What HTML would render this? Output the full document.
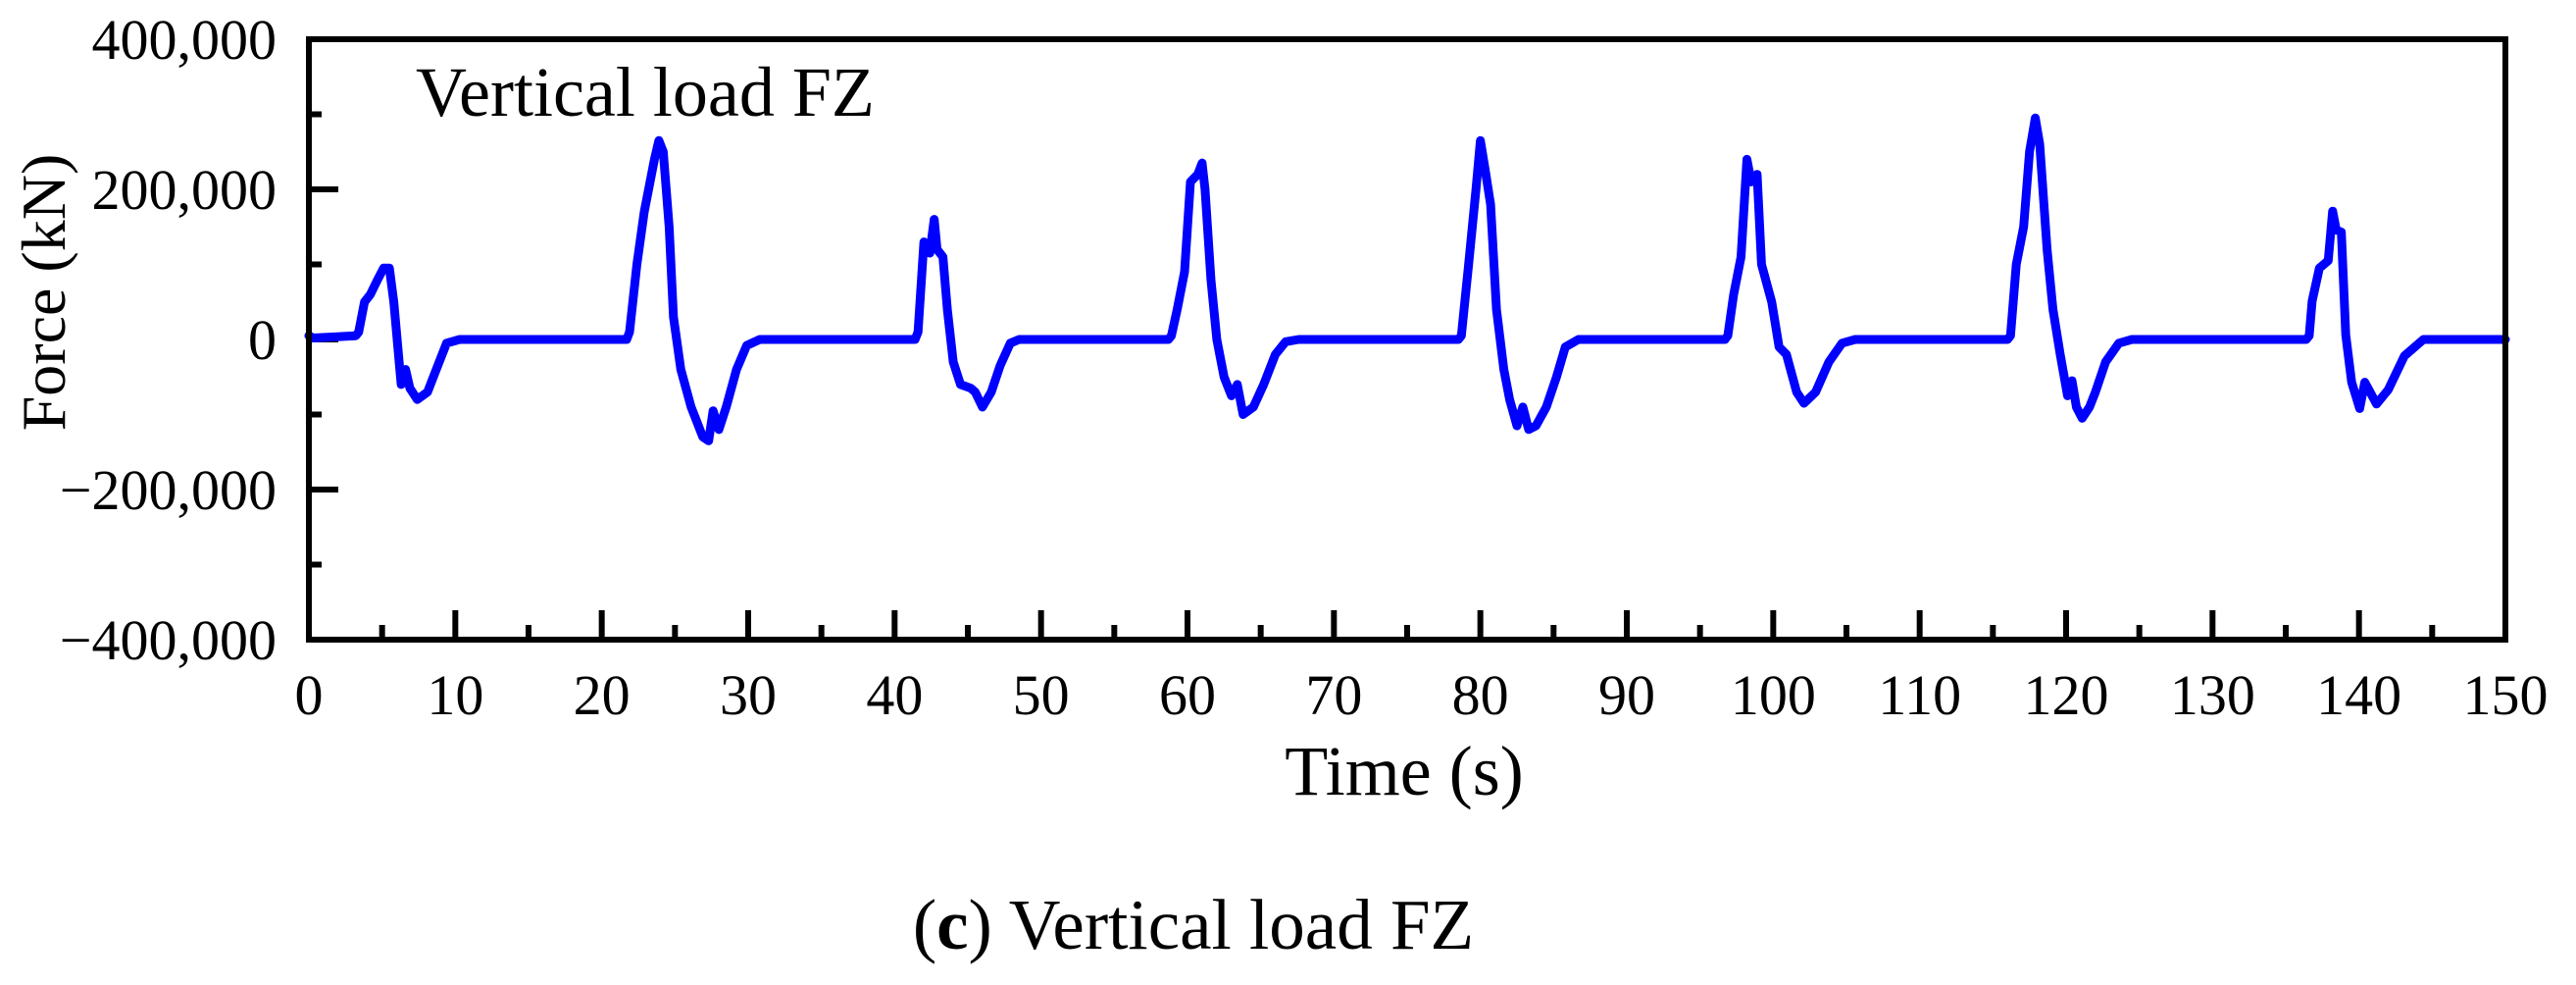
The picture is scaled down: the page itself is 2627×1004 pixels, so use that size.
<!DOCTYPE html>
<html><head><meta charset="utf-8"><style>
html,body{margin:0;padding:0;background:#fff;}
svg{display:block;font-family:"Liberation Serif",serif;}
</style></head><body>
<svg id="chart" width="2627" height="1004" viewBox="0 0 2627 1004" xmlns="http://www.w3.org/2000/svg">
<rect x="0" y="0" width="2627" height="1004" fill="#fff"/>
<g id="ticks"></g>
<g id="labels"></g>
<path id="series" fill="none" stroke="#0000ff" stroke-width="9" stroke-linejoin="round" stroke-linecap="round"/>
<rect x="315" y="40" width="2240" height="612" fill="none" stroke="#000" stroke-width="6"/>
<text x="424" y="118" font-size="72">Vertical load FZ</text>
<text transform="translate(66,298) rotate(-90)" text-anchor="middle" font-size="64">Force (kN)</text>
<text x="1432" y="810" text-anchor="middle" font-size="72">Time (s)</text>
<text x="1217" y="967" text-anchor="middle" font-size="73">(<tspan font-weight="bold">c</tspan>) Vertical load FZ</text>
</svg>
<script>
const times = [0,0.3,3.2,3.4,3.8,4.2,4.7,5.1,5.5,5.8,6.3,6.6,6.9,7.4,8.1,8.7,9.4,10.3,12,
21.7,21.9,22.4,22.9,23.6,23.9,24.2,24.6,24.9,25.4,26.1,26.9,27.3,27.6,28.0,28.5,29.2,29.9,30.8,
41.4,41.6,42.0,42.4,42.7,42.9,43.3,43.6,44.0,44.5,45.2,45.5,46.0,46.6,47.2,47.9,48.5,
58.7,58.9,59.3,59.8,60.2,60.7,61.0,61.2,61.6,62.0,62.5,63.0,63.4,63.8,64.5,65.2,66.0,66.7,67.6,
78.5,78.7,79.2,79.7,80.0,80.3,80.7,81.1,81.6,82.0,82.5,82.9,83.3,83.8,84.5,85.2,85.8,86.7,
96.7,96.9,97.3,97.8,98.2,98.5,98.9,99.2,99.9,100.4,100.9,101.6,102.1,102.9,103.8,104.7,105.6,
116.0,116.2,116.6,117.1,117.5,117.9,118.2,118.7,119.1,119.6,120.1,120.4,120.7,121.1,121.6,122.0,122.7,123.6,124.5,
136.4,136.6,136.8,137.3,137.9,138.2,138.45,138.8,139.1,139.5,140.05,140.4,141.2,142.0,143.1,144.4,150];
const forces = [5,2,5,10,50,60,80,95,95,50,-60,-40,-65,-80,-70,-40,-5,0,0,
0,10,100,170,240,265,250,150,30,-40,-90,-130,-135,-95,-120,-90,-40,-8,0,
0,10,130,115,160,120,110,40,-30,-60,-65,-70,-90,-70,-35,-5,0,
0,5,40,90,210,220,235,200,80,0,-50,-75,-60,-100,-90,-60,-20,-3,0,
0,5,100,200,265,230,180,40,-40,-80,-115,-90,-120,-115,-90,-50,-10,0,
0,5,60,110,240,210,220,100,50,-10,-20,-70,-85,-70,-30,-5,0,
0,5,100,150,250,295,260,120,40,-20,-75,-55,-90,-105,-90,-70,-30,-5,0,
0,5,51,95,105,171,146,143,6,-57,-92,-57,-86,-67,-22,0,0];
const xTickValues = [0,10,20,30,40,50,60,70,80,90,100,110,120,130,140,150];
const xTickLabels = ["0","10","20","30","40","50","60","70","80","90","100","110","120","130","140","150"];
const yTickValues = [400,200,0,-200,-400];
const yTickLabels = ["400,000","200,000","0","\u2212200,000","\u2212400,000"];

const X0=315, X1=2555, Y0=652, Y1=40;
function xs(t){return X0+(t-0)/(150-0)*(X1-X0);}
function ys(v){return Y0-(v+400)/800*(Y0-Y1);}
const NS="http://www.w3.org/2000/svg";
const tg=document.getElementById('ticks'), lg=document.getElementById('labels');
function line(x1,y1,x2,y2,name){
  const l=document.createElementNS(NS,'line');
  l.setAttribute('x1',x1);l.setAttribute('y1',y1);l.setAttribute('x2',x2);l.setAttribute('y2',y2);
  l.setAttribute('stroke','#000');l.setAttribute('stroke-width','6');
  
  
  tg.appendChild(l);
}
for(let t=5;t<150;t+=10){line(xs(t),Y0,xs(t),Y0-15,'x-minor-tick');}
xTickValues.forEach((t,i)=>{
  if(t>0&&t<150) line(xs(t),Y0,xs(t),Y0-30,'x-major-tick');
  const tx=document.createElementNS(NS,'text');
  tx.setAttribute('x',xs(t));tx.setAttribute('y',728);tx.setAttribute('text-anchor','middle');tx.setAttribute('font-size','58');
  tx.textContent=xTickLabels[i];
  
  
  lg.appendChild(tx);
});
for(let v=-300;v<400;v+=200){line(X0,ys(v),X0+13,ys(v),'y-minor-tick');}
yTickValues.forEach((v,i)=>{
  if(v>-400&&v<400) line(X0,ys(v),X0+30,ys(v),'y-major-tick');
  const tx=document.createElementNS(NS,'text');
  tx.setAttribute('x',282);tx.setAttribute('y',ys(v)+20);tx.setAttribute('text-anchor','end');tx.setAttribute('font-size','58');
  tx.textContent=yTickLabels[i];
  
  
  lg.appendChild(tx);
});
let d='';
times.forEach((t,i)=>{d+=(i?'L':'M')+xs(t).toFixed(1)+','+ys(forces[i]).toFixed(1);});
document.getElementById('series').setAttribute('d',d);
</script>
</body></html>
